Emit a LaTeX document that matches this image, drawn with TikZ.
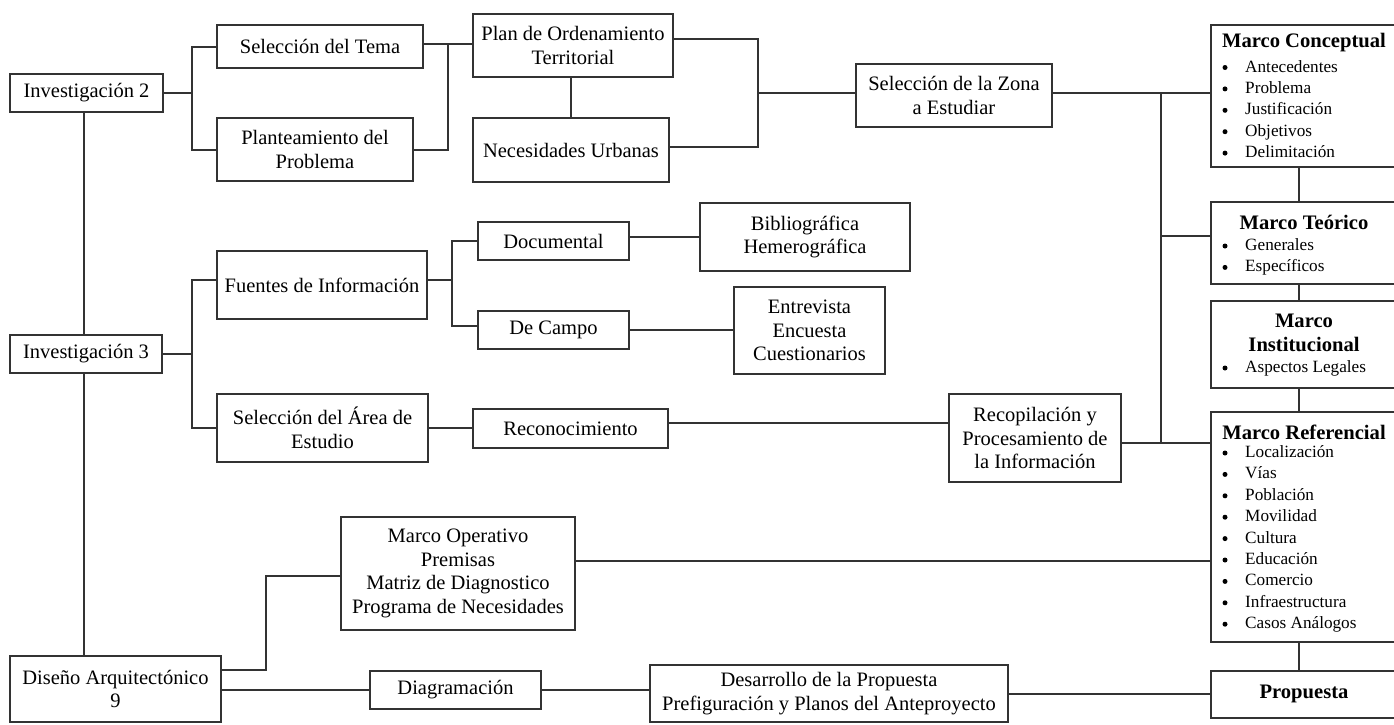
\documentclass[tikz,border=0pt]{standalone}
\usepackage{fontspec}
\setmainfont{Liberation Serif}
\newcommand\mybox[6]{\node[box,minimum width={(#4-#2)*1pt},minimum height={(#5-#3)*1pt}] (#1) at ({(#2+#4)/2},{(#3+#5)/2}) {#6};}
\newcommand\myitems[3]{\foreach \t [count=\i] in {#3} {%
  \node[itemtxt] (#1i\i) at (1245,{#2+(\i-1)*21.4}) {\t};
  \node[dot] (#1b\i) at (1225,{#2+(\i-1)*21.4}) {};}}
\begin{document}
\begin{tikzpicture}[x=1pt,y=-1pt,
  box/.style={draw=black!80,line width=2pt,rectangle,inner sep=0pt,align=center,font=\fontsize{20.5}{23.5}\selectfont},
  conn/.style={draw=black!80,line width=2pt},
  head/.style={font=\bfseries\fontsize{20.6}{24.5}\selectfont,inner sep=0pt,align=center},
  itemtxt/.style={font=\fontsize{17.2}{21}\selectfont,inner sep=0pt,anchor=west,text height=12pt,text depth=3pt},
  dot/.style={circle,fill=black,inner sep=0pt,minimum size=5pt}]
\fill[white] (0,0) rectangle (1394,724);
\useasboundingbox (0,0) rectangle (1394,724);
\clip (0,0) rectangle (1394,724);
% boxes
\mybox{inv2}{10}{74}{163}{112}{Investigación 2}
\mybox{tema}{217}{25}{423}{68}{Selección del Tema}
\mybox{plant}{217}{118}{413}{181}{Planteamiento del\\Problema}
\mybox{pot}{473}{14}{673}{77}{Plan de Ordenamiento\\Territorial}
\mybox{nec}{473}{118}{669}{182}{Necesidades Urbanas}
\mybox{zona}{856}{64}{1052}{127}{Selección de la Zona\\a Estudiar}
\mybox{inv3}{10}{335}{162}{373}{Investigación 3}
\mybox{fuentes}{217}{251}{427}{319}{Fuentes de Información}
\mybox{doc}{478}{222}{629}{260}{Documental}
\mybox{campo}{478}{311}{629}{349}{De Campo}
\mybox{biblio}{700}{203}{910}{271}{Bibliográfica\\Hemerográfica}
\mybox{entre}{734}{287}{885}{374}{Entrevista\\Encuesta\\Cuestionarios}
\mybox{area}{217}{394}{428}{462}{Selección del Área de\\Estudio}
\mybox{recon}{473}{409}{668}{448}{Reconocimiento}
\mybox{recop}{949}{394}{1121}{482}{Recopilación y\\Procesamiento de\\la Información}
\mybox{mop}{341}{517}{575}{630}{Marco Operativo\\Premisas\\Matriz de Diagnostico\\Programa de Necesidades}
\mybox{diseno}{10}{656}{221}{722}{Diseño Arquitectónico\\9}
\mybox{diag}{370}{671}{541}{709}{Diagramación}
\mybox{desa}{650}{665}{1008}{722}{Desarrollo de la Propuesta\\Prefiguración y Planos del Anteproyecto}
% right column
\mybox{mconc}{1211}{25}{1398}{167}{}
\mybox{mteo}{1211}{202}{1398}{284}{}
\mybox{minst}{1211}{301}{1398}{388}{}
\mybox{mref}{1211}{412}{1398}{642}{}
\mybox{prop}{1211}{671}{1398}{718}{}
\node[head] (mconcH) at (1304,43) {Marco Conceptual};
\myitems{mc}{67.5}{Antecedentes,Problema,Justificación,Objetivos,Delimitación}
\node[head] (mteoH) at (1304,222) {Marco Teórico};
\myitems{mt}{246}{Generales,Específicos}
\node[head] (minstH) at (1304,333) {Marco\\Institucional};
\myitems{mi}{368}{Aspectos Legales}
\node[head] (mrefH) at (1304,432) {Marco Referencial};
\myitems{mr}{453}{Localización,Vías,Población,Movilidad,Cultura,Educación,Comercio,Infraestructura,Casos Análogos}
\node[head] (propH) at (1304,694) {Propuesta};
% helper levels
\coordinate (y47) at (0,47);   \coordinate (y150) at (0,150);
\coordinate (y39) at (0,39);   \coordinate (y147) at (0,147);
\coordinate (y330) at (0,330); \coordinate (y423) at (0,423);
\coordinate (y694) at (0,694); \coordinate (y561) at (0,561);
\coordinate (y576) at (0,576); \coordinate (y690) at (0,690);
\coordinate (y326) at (0,326); \coordinate (y237) at (0,237);
\coordinate (y280) at (0,280); \coordinate (y428) at (0,428);
\coordinate (vx) at (1299,0);  \coordinate (lx) at (84,0);
\coordinate (nx) at (571,0);
% connectors
\coordinate (j0) at (192,93);
\draw[conn] (inv2.east |- j0) -- (j0);
\draw[conn] (tema.west |- y47) -| (j0) |- (plant.west |- y150);
\draw[conn] (inv2.south -| lx) -- (inv3.north -| lx);
\draw[conn] (inv3.south -| lx) -- (diseno.north -| lx);
\coordinate (j1) at (448,44);
\draw[conn] (tema.east |- j1) -- (pot.west |- j1);
\draw[conn] (plant.east |- y150) -| (j1);
\draw[conn] (pot.south -| nx) -- (nec.north -| nx);
\coordinate (b2) at (758,93);
\draw[conn] (pot.east |- y39) -| (b2) |- (nec.east |- y147);
\draw[conn] (b2) -- (b2 -| zona.west);
\coordinate (t1) at (1161,93);
\coordinate (t2) at (1161,443);
\coordinate (t3) at (1161,236);
\draw[conn] (zona.east |- t1) -- (mconc.west |- t1);
\draw[conn] (t1) -- (t2);
\draw[conn] (t3) -- (t3 -| mteo.west);
\draw[conn] (recop.east |- t2) -- (t2 -| mref.west);
\draw[conn] (mconc.south -| vx) -- (mteo.north -| vx);
\draw[conn] (mteo.south -| vx) -- (minst.north -| vx);
\draw[conn] (minst.south -| vx) -- (mref.north -| vx);
\draw[conn] (mref.south -| vx) -- (prop.north -| vx);
\coordinate (j3) at (192,354);
\draw[conn] (inv3.east |- j3) -- (j3);
\draw[conn] (fuentes.west |- y280) -| (j3) |- (area.west |- y428);
\coordinate (j4) at (452,280);
\draw[conn] (fuentes.east |- j4) -- (j4);
\draw[conn] (doc.west) -| (j4) |- (campo.west |- y326);
\draw[conn] (doc.east |- y237) -- (biblio.west |- y237);
\draw[conn] (campo.east |- y330) -- (entre.west |- y330);
\draw[conn] (area.east |- y428) -- (recon.west |- y428);
\draw[conn] (recon.east |- y423) -- (recop.west |- y423);
\coordinate (j5) at (266,670);
\draw[conn] (diseno.east |- j5) -- (j5) |- (mop.west |- y576);
\draw[conn] (diseno.east |- y690) -- (diag.west |- y690);
\draw[conn] (diag.east |- y690) -- (desa.west |- y690);
\draw[conn] (desa.east |- y694) -- (prop.west |- y694);
\draw[conn] (mop.east |- y561) -- (mref.west |- y561);
\end{tikzpicture}
\end{document}
